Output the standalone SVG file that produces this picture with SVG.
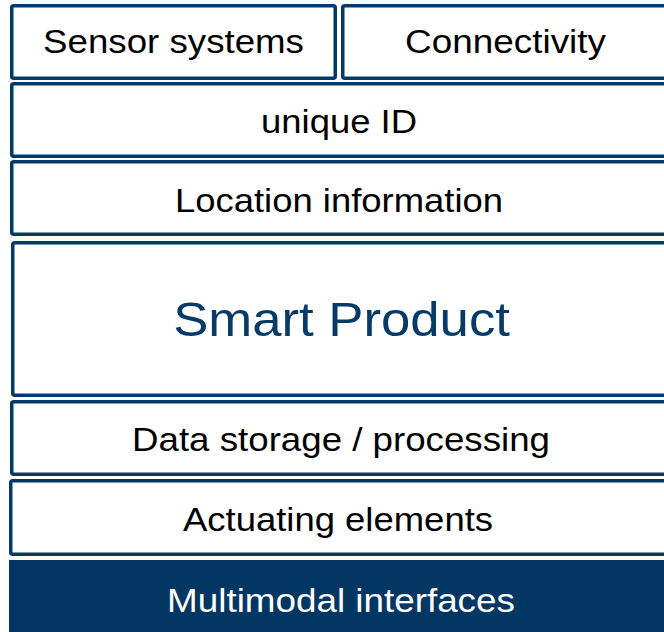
<svg xmlns="http://www.w3.org/2000/svg" width="664" height="632" viewBox="0 0 664 632">
  <style>
    .box { fill: #ffffff; stroke: #013a68; stroke-width: 3.5; }
    .solid { fill: #023764; stroke: none; }
    .lbl { font-family: "Liberation Sans", Arial, sans-serif; font-size: 33px; fill: #000000; text-anchor: middle; }
    .title { font-family: "Liberation Sans", Arial, sans-serif; font-size: 48px; fill: #073b67; text-anchor: middle; }
    .inv { fill: #ffffff; }
  </style>
  <rect width="664" height="632" fill="#ffffff"/>

  <!-- labels use a slightly widened face: scale(1.11,1) -->
  <g id="sensor-systems">
    <rect class="box" x="11.75" y="5.75" width="323.5" height="72.5" rx="2"/>
    <text class="lbl" transform="translate(173.5 53) scale(1.112 1)">Sensor systems</text>
  </g>
  <g id="connectivity">
    <rect class="box" x="342.75" y="5.75" width="340" height="72.5" rx="2"/>
    <text class="lbl" transform="translate(505.5 53) scale(1.118 1)">Connectivity</text>
  </g>
  <g id="unique-id">
    <rect class="box" x="11.75" y="83.75" width="680" height="72.5" rx="2"/>
    <text class="lbl" transform="translate(339 133) scale(1.105 1)">unique ID</text>
  </g>
  <g id="location-information">
    <rect class="box" x="11.75" y="161.75" width="680" height="72.5" rx="2"/>
    <text class="lbl" transform="translate(339 212) scale(1.104 1)">Location information</text>
  </g>
  <g id="smart-product">
    <rect class="box" x="12.75" y="242.75" width="680" height="152.5" rx="2"/>
    <text class="title" transform="translate(341.5 336) scale(1.098 1)">Smart Product</text>
  </g>
  <g id="data-storage-processing">
    <rect class="box" x="11.75" y="401.75" width="680" height="72.5" rx="2"/>
    <text class="lbl" transform="translate(341 451) scale(1.112 1)">Data storage / processing</text>
  </g>
  <g id="actuating-elements">
    <rect class="box" x="10.75" y="480.75" width="680" height="73.5" rx="2"/>
    <text class="lbl" transform="translate(338 531) scale(1.105 1)">Actuating elements</text>
  </g>
  <g id="multimodal-interfaces">
    <rect class="solid" x="9" y="560" width="680" height="80"/>
    <text class="lbl inv" transform="translate(341 612) scale(1.116 1)">Multimodal interfaces</text>
  </g>

  <g id="connectors"/>
</svg>
